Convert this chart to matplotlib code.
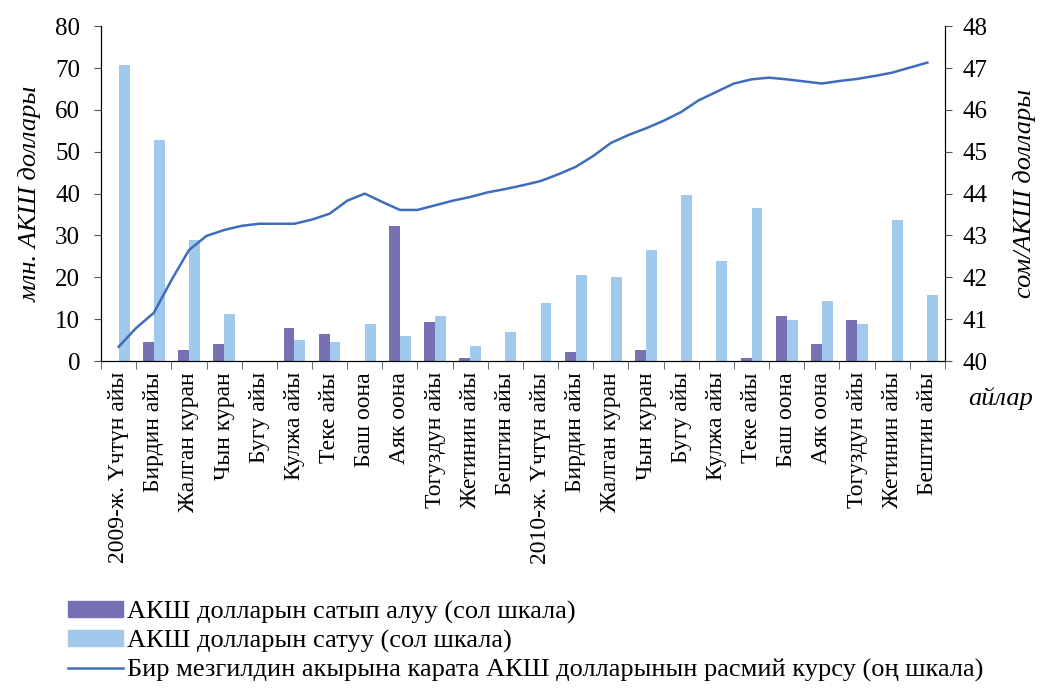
import numpy as np
import matplotlib.pyplot as plt
from matplotlib.patches import Patch
from matplotlib.lines import Line2D

plt.rcParams['font.family'] = ['Liberation Serif', 'DejaVu Serif']
plt.rcParams['font.size'] = 17

months = ["2009-ж. Үчтүн айы", "Бирдин айы", "Жалган куран", "Чын куран",
          "Бугу айы", "Кулжа айы", "Теке айы", "Баш оона", "Аяк оона",
          "Тогуздун айы", "Жетинин айы", "Бештин айы",
          "2010-ж. Үчтүн айы", "Бирдин айы", "Жалган куран", "Чын куран",
          "Бугу айы", "Кулжа айы", "Теке айы", "Баш оона", "Аяк оона",
          "Тогуздун айы", "Жетинин айы", "Бештин айы"]

# purchases and sales of USD, mln (left scale)
bought = [0, 4.5, 2.6, 4.1, 0, 7.9, 6.4, 0, 32.2, 9.3, 0.7, 0,
          0, 2.1, 0, 2.6, 0, 0, 0.7, 10.7, 4.1, 9.8, 0, 0]
sold = [70.7, 52.8, 28.9, 11.2, 0, 5.0, 4.5, 8.8, 6.0, 10.7, 3.6, 6.9,
        13.9, 20.5, 20.1, 26.5, 39.6, 23.9, 36.5, 9.8, 14.3, 8.8, 33.7, 15.8]

# official rate, half-month steps (right scale)
rate_pos = np.arange(0, 23.5, 0.5)
rate = [40.34, 40.79, 41.15, 41.93, 42.65, 42.99, 43.13, 43.23, 43.28, 43.28,
        43.28, 43.38, 43.52, 43.83, 44.00, 43.80, 43.61, 43.61, 43.72, 43.83,
        43.92, 44.03, 44.11, 44.20, 44.30, 44.46, 44.64, 44.90, 45.21, 45.40,
        45.56, 45.74, 45.95, 46.23, 46.43, 46.63, 46.73, 46.77, 46.73, 46.68,
        46.63, 46.69, 46.74, 46.81, 46.89, 47.01, 47.13]

c_buy = "#7771b3"
c_sell = "#a1c9ec"
c_rate = "#3f6cbb"

fig = plt.figure(figsize=(10.47, 6.89), dpi=100)
ax = fig.add_axes([0.0965, 0.476, 0.806, 0.486])
x = np.arange(len(months))
w = 0.31
ax.bar(x - w / 2, bought, w, color=c_buy)
ax.bar(x + w / 2, sold, w, color=c_sell)

ax.set_xlim(-0.5, len(months) - 0.5)
ax.set_ylim(0, 80)
ax.set_yticks(range(0, 81, 10))
ax.set_xticks(x)
ax.set_xticklabels(months, rotation=90)
ax.set_xticks(np.arange(-0.5, len(months)), minor=True)
ax.tick_params(axis='x', which='major', length=0, pad=8)
ax.tick_params(axis='x', which='minor', length=6, direction='out', color='#555555')
ax.tick_params(axis='y', length=5, direction='out', color='#555555', pad=10,
               labelsize=18)
ax.spines['top'].set_visible(False)
ax.set_ylabel("млн. АКШ доллары", style='italic', fontsize=19, labelpad=10)

ax2 = ax.twinx()
ax2.plot(rate_pos, rate, color=c_rate, lw=1.8)
ax2.set_ylim(40, 48)
ax2.set_yticks(range(40, 49))
ax2.tick_params(axis='y', length=5, direction='out', color='#555555', pad=8,
                labelsize=18)
ax2.spines['top'].set_visible(False)
ax2.set_ylabel("сом/АКШ доллары", style='italic', fontsize=19, labelpad=18)

fig.text(0.925, 0.412, "айлар", style='italic', fontsize=19)

handles = [Patch(color=c_buy), Patch(color=c_sell),
           Line2D([], [], color=c_rate, lw=1.8)]
labels = ["АКШ долларын сатып алуу (сол шкала)",
          "АКШ долларын сатуу (сол шкала)",
          "Бир мезгилдин акырына карата АКШ долларынын расмий курсу (оң шкала)"]
fig.legend(handles, labels, loc='upper left', bbox_to_anchor=(0.065, 0.128),
           frameon=False, fontsize=19, handlelength=2.1, handleheight=0.55,
           handletextpad=0.15, labelspacing=0.22, borderaxespad=0, borderpad=0)

fig.savefig("out.png", dpi=100)
